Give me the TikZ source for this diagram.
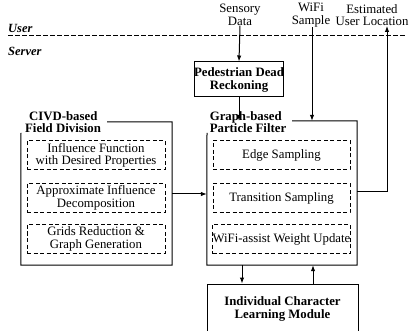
\documentclass[tikz,border=0pt]{standalone}
\usepackage{fontspec}
\setmainfont{Liberation Serif}
\usetikzlibrary{arrows.meta,positioning}
\begin{document}
\begin{tikzpicture}[x=1pt,y=-1pt,
  every node/.style={font=\fontsize{12.8}{12.5}\selectfont, align=center},
  thinline/.style={line width=1pt},
  arr/.style={thinline,-{Latex[length=6pt,width=4.5pt]}},
  solidbox/.style={draw,thinline,inner sep=0pt},
  subbox/.style={draw,thinline,dash pattern=on 4pt off 2.5pt,inner sep=0pt,minimum height=29pt},
  titletext/.style={font=\fontsize{12.8}{12}\selectfont\bfseries, align=left, inner sep=0pt},
  lbl/.style={font=\fontsize{12.5}{12}\selectfont\bfseries\itshape, anchor=west, inner sep=0pt}]
\clip (0,0) rectangle (412,331);
\useasboundingbox (0,0) rectangle (412,331);

% user / server split
\node[lbl] (user) at (8,28) {User};
\node[lbl] (server) at (8,51) {Server};
\coordinate (splitL) at (8,36);
\coordinate (splitR) at (406,36);
\draw[thinline,dash pattern=on 4.5pt off 2.5pt] (splitL) -- (splitR);

% inputs and output labels
\node[inner sep=0pt] (sensor) at (240,15) {Sensory\\Data};
\node[inner sep=0pt] (wifi) at (311,15) {WiFi\\Sample};
\node[inner sep=0pt] (estim) at (372,15) {Estimated\\User Location};

% pedestrian dead reckoning
\node[solidbox, minimum width=88pt, minimum height=35pt,
      font=\fontsize{12.8}{13}\selectfont\bfseries] (pdr) at (239,79.5) {Pedestrian Dead\\Reckoning};

% CIVD-based field division
\node[minimum width=151pt, minimum height=143pt, inner sep=0pt] (civd) at (96.5,193.5) {};
\node[titletext] (civdT) at (63,122.5) {\hspace*{4pt}CIVD-based\\Field Division};
\coordinate (civdTR) at (107,122);
\coordinate (civdTB) at (21,133);
\draw[thinline] (civdTR) -- (civd.north east) -- (civd.south east) -- (civd.south west) -- (civdTB);
\node[subbox, minimum width=138pt] (inf) at (96,155.5) {Influence Function\\with Desired Properties};
\node[subbox, minimum width=138pt] (aid) at (96,198) {Approximate Influence\\Decomposition};
\node[subbox, minimum width=138pt] (grg) at (96,239) {Grids Reduction \&\\Graph Generation};

% graph-based particle filter
\node[minimum width=150pt, minimum height=144pt, inner sep=0pt] (gpf) at (282,193) {};
\node[titletext] (gpfT) at (248,122) {Graph-based\\Particle Filter};
\coordinate (gpfTR) at (292,121);
\coordinate (gpfTB) at (207,133);
\draw[thinline] (gpfTR) -- (gpf.north east) -- (gpf.south east) -- (gpf.south west) -- (gpfTB);
\node[subbox, minimum width=137pt] (edge) at (281.5,155.5) {Edge Sampling};
\node[subbox, minimum width=137pt] (trans) at (281.5,198) {Transition Sampling};
\node[subbox, minimum width=137pt] (wwu) at (281.5,239) {WiFi-assist Weight Update};

% individual character learning
\node[solidbox, minimum width=151pt, minimum height=60pt] (icl) at (282.5,314) {};
\node[font=\fontsize{12.8}{13.5}\selectfont\bfseries, inner sep=0pt] (iclT) at (282.5,309) {Individual Character\\Learning Module};

% connectors
\draw[arr] (sensor.south) -- (pdr.north);
\draw[arr] (pdr.south) -- (pdr.south |- gpf.north);
\draw[arr] (wifi.south -| 312,0) -- (312,0 |- gpf.north);
\draw[arr] (civd.east |- 0,194) -- (gpf.west |- 0,194);
\coordinate (outCorner) at (387,192);
\draw[arr] (gpf.east |- outCorner) -- (outCorner) -- (outCorner |- estim.south);
\draw[arr] (242,0 |- gpf.south) -- (242,0 |- icl.north);
\draw[arr] (313,0 |- icl.north) -- (313,0 |- gpf.south);
\end{tikzpicture}
\end{document}
